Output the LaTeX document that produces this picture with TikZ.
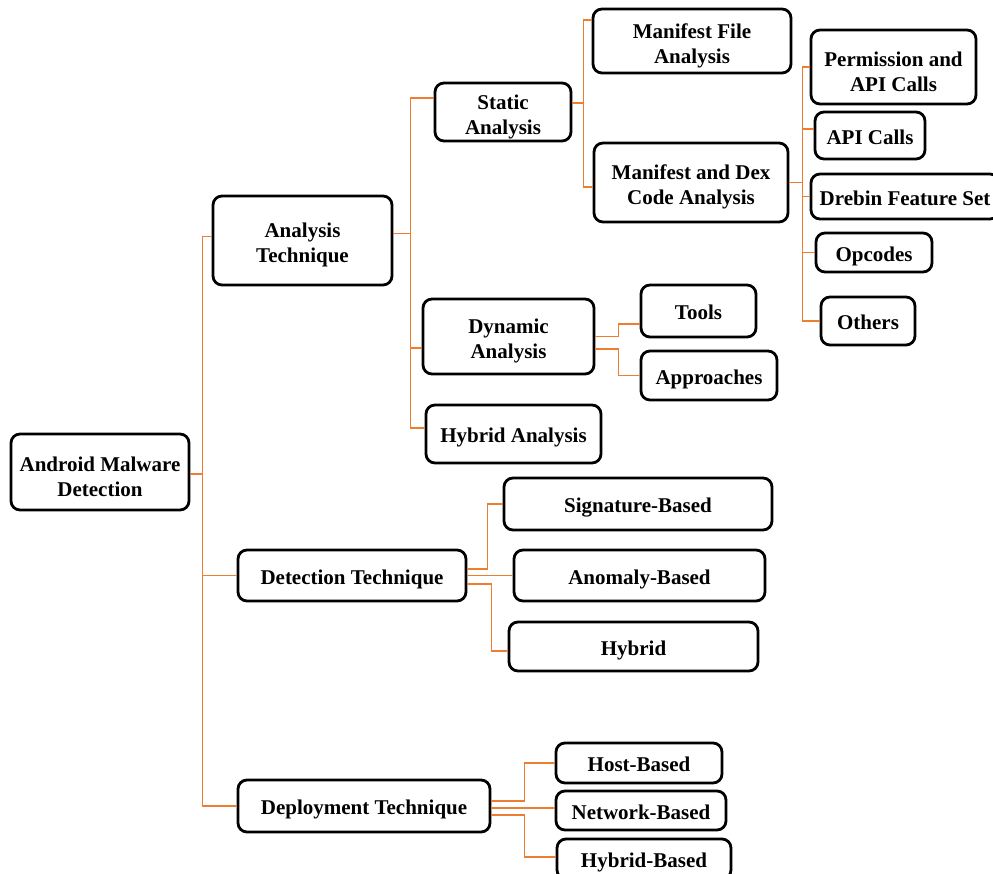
\documentclass[tikz,border=0pt]{standalone}
\usepackage{fontspec}
\setmainfont{Liberation Serif}
\definecolor{conncol}{HTML}{ED7D31}
\begin{document}
\begin{tikzpicture}[x=1pt,y=-1pt,
  frame/.style={draw=black,line width=2.8pt,rounded corners=9pt,fill=white,
    inner sep=0pt,align=center,font=\fontsize{21}{25}\selectfont\bfseries},
  box/.style={frame,
    execute at begin node={\rule{0pt}{23.6pt}},
    execute at end node={\rule[-6pt]{0pt}{6pt}}},
  twotext/.style={inner sep=0pt,align=center,font=\fontsize{21}{25}\selectfont\bfseries,yshift=-4.5pt},
  conn/.style={draw=conncol,line width=1.6pt}]
\useasboundingbox (0,0) rectangle (993,873);
% nodes
\node[frame,minimum width=178,minimum height=76,label={[twotext]center:{Android Malware\\Detection}}] (root) at (100,472) {};
\node[frame,minimum width=179,minimum height=89,label={[twotext]center:{Analysis\\Technique}}] (at) at (302.5,240.5) {};
\node[frame,minimum width=136,minimum height=58,label={[twotext]center:{Static\\Analysis}}] (sa) at (503,112) {};
\node[frame,minimum width=198,minimum height=64,label={[twotext]center:{Manifest File\\Analysis}}] (mfa) at (692,41) {};
\node[frame,minimum width=194,minimum height=79,label={[twotext]center:{Manifest and Dex\\Code Analysis}}] (mdca) at (691,182.5) {};
\node[frame,minimum width=165,minimum height=74,label={[twotext]center:{Permission and\\API Calls}}] (pac) at (893.5,67) {};
\node[box,minimum width=110,minimum height=47] (api) at (870,135.5) {API Calls};
\node[box,minimum width=188,minimum height=45] (dreb) at (905,196.5) {Drebin Feature Set};
\node[box,minimum width=116,minimum height=39] (opc) at (874,252.5) {Opcodes};
\node[box,minimum width=94,minimum height=48] (oth) at (868,321) {Others};
\node[frame,minimum width=171,minimum height=75,label={[twotext]center:{Dynamic\\Analysis}}] (da) at (508.5,336.5) {};
\node[box,minimum width=115,minimum height=52] (tools) at (698.5,311) {Tools};
\node[box,minimum width=136,minimum height=49] (appr) at (709,375.5) {Approaches};
\node[box,minimum width=175,minimum height=58] (ha) at (513.5,434) {Hybrid Analysis};
\node[box,minimum width=228,minimum height=51] (dt) at (352,575.5) {Detection Technique};
\node[box,minimum width=268,minimum height=52] (sb) at (638,504) {Signature-Based};
\node[box,minimum width=251,minimum height=51] (ab) at (639.5,575.5) {Anomaly-Based};
\node[box,minimum width=249,minimum height=49] (hyb) at (633.5,646.5) {Hybrid};
\node[box,minimum width=252,minimum height=52] (dep) at (364,806) {Deployment Technique};
\node[box,minimum width=166,minimum height=40] (hb) at (639,763) {Host-Based};
\node[box,minimum width=170,minimum height=39] (nb) at (641,810.5) {Network-Based};
\node[box,minimum width=174,minimum height=40] (hyb2) at (644,859) {Hybrid-Based};
% connectors
% root
\draw[conn] ([yshift=-2pt]root.east) -- ++(12,0) |- ([yshift=4pt]at.west);
\draw[conn] ([yshift=-2pt]root.east) -- ++(12,0) |- (dt.west);
\draw[conn] ([yshift=-2pt]root.east) -- ++(12,0) |- (dep.west);
% analysis technique
\draw[conn] ([yshift=7pt]at.east) -- ++(17,0) |- ([yshift=14pt]sa.west);
\draw[conn] ([yshift=7pt]at.east) -- ++(17,0) |- ([yshift=-11.5pt]da.west);
\draw[conn] ([yshift=7pt]at.east) -- ++(17,0) |- ([yshift=6pt]ha.west);
% static
\draw[conn] ([yshift=9pt]sa.east) -- ++(11,0) |- ([yshift=21pt]mfa.west);
\draw[conn] ([yshift=9pt]sa.east) -- ++(11,0) |- ([yshift=-4.5pt]mdca.west);
% manifest and dex
\draw[conn] (mdca.east) -- ++(13,0) |- (pac.west);
\draw[conn] (mdca.east) -- ++(13,0) |- ([yshift=6.5pt]api.west);
\draw[conn] (mdca.east) -- ++(13,0) |- (dreb.west);
\draw[conn] (mdca.east) -- ++(13,0) |- (opc.west);
\draw[conn] (mdca.east) -- ++(13,0) |- (oth.west);
% dynamic
\draw[conn] (da.east) -- ++(23,0) |- ([yshift=-13pt]tools.west);
\draw[conn] ([yshift=-12.5pt]da.east) -- ++(23,0) |- (appr.west);
% detection
\draw[conn] ([yshift=6.5pt]dt.east) -- ++(20,0) |- (sb.west);
\draw[conn] (dt.east) -- (ab.west);
\draw[conn] ([yshift=-8.5pt]dt.east) -- ++(24,0) |- ([yshift=-4.5pt]hyb.west);
% deployment
\draw[conn] ([yshift=5pt]dep.east) -- ++(33,0) |- (hb.west);
\draw[conn] ([yshift=-2pt]dep.east) -- ([yshift=-2pt]dep.east -| nb.west);
\draw[conn] ([yshift=-9pt]dep.east) -- ++(33,0) |- ([yshift=2pt]hyb2.west);
\end{tikzpicture}
\end{document}
